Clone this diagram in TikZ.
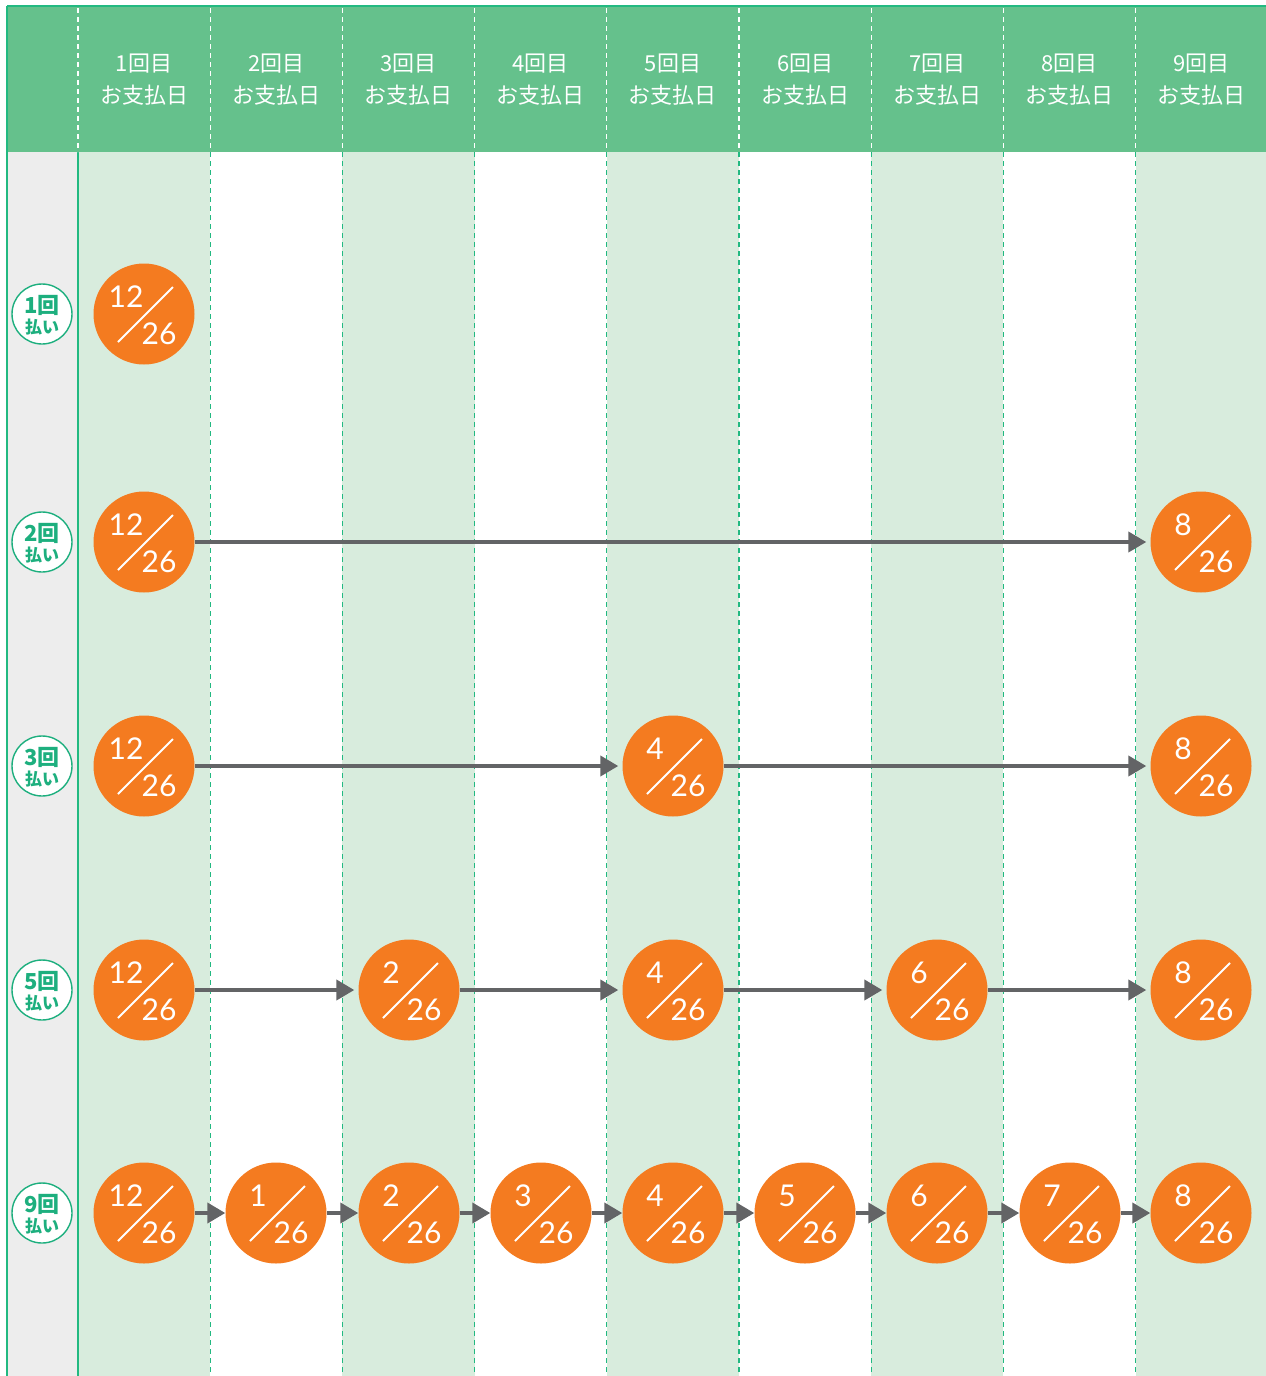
\documentclass[tikz,border=0pt]{standalone}
\usepackage{fontspec}
\setmainfont{Noto Sans CJK JP}
\newfontfamily\numfont{Lato}
\usetikzlibrary{arrows.meta,calc}
\definecolor{hdrgreen}{HTML}{65C18C}
\definecolor{lightgreen}{HTML}{D8ECDD}
\definecolor{leftgray}{HTML}{EDEDED}
\definecolor{linegreen}{HTML}{22B981}
\definecolor{labelgreen}{HTML}{1DAF7E}
\definecolor{payorange}{HTML}{F47B20}
\definecolor{arrowgray}{HTML}{636466}
\tikzset{
  paycircle/.style={circle, fill=payorange, minimum size=101pt, inner sep=0pt},
  numtxt/.style={text=white, font=\numfont\fontsize{30}{30}\selectfont, inner sep=0pt},
  slash/.style={white, line width=2pt},
  payarrow/.style={arrowgray, line width=4pt, -{Triangle[length=18pt,width=20pt]}, shorten >=4pt},
  hdrtxt/.style={text=white, font=\fontsize{22}{32}\selectfont, align=center, inner sep=0pt},
  rowlabel/.style={circle, draw=labelgreen, line width=1.4pt, fill=white, minimum size=60pt, inner sep=0pt},
  lbltxt/.style={text=labelgreen, inner sep=0pt},
  bodydash/.style={linegreen, line width=1.2pt, dash pattern=on 5pt off 4pt},
  hdrdash/.style={white, line width=1.2pt, dash pattern=on 5pt off 4pt}
}
\newcommand{\paycirc}[4]{% name, x, y, numerator
  \node[paycircle] (#1) at (#2,#3) {};
  \draw[slash] ($(#1.center)+(-26,28)$) -- ($(#1.center)+(29,-27)$);
  \node[numtxt] (#1-n) at ($(#1.center)+(-18,-17)$) {#4};
  \node[numtxt] (#1-d) at ($(#1.center)+(15,20)$) {26};
}
\begin{document}
\begin{tikzpicture}[x=1pt,y=-1pt]
\useasboundingbox (0,0) rectangle (1266,1376);
\fill[white] (0,0) rectangle (1266,1376);
% left column
\fill[leftgray] (7,6) rectangle (78,1376);
% column backgrounds
\foreach \i in {0,2,4,6,8} {
  \fill[lightgreen] ({78+\i*132.2},152) rectangle ({78+(\i+1)*132.2},1376);
}
% header
\fill[hdrgreen] (7,6) rectangle (1266,152);
\draw[linegreen, line width=1.2pt] (7,6) -- (1266,6);
\draw[linegreen, line width=1.2pt] (7,6) -- (7,1376);
\draw[linegreen, line width=1.2pt] (78,152) -- (78,1376);
\draw[hdrdash] (78,8) -- (78,152);
\foreach \i in {1,...,8} {
  \draw[hdrdash] ({78+\i*132.2},8) -- ({78+\i*132.2},152);
  \draw[bodydash] ({78+\i*132.2},152) -- ({78+\i*132.2},1376);
}
% header texts
\foreach \i in {1,...,9} {
  \node[hdrtxt] (h\i) at ({78+(\i-0.5)*132.2},80) {\i 回目\\お支払日};
}
% row labels
\foreach \n/\y in {1/314,2/542,3/766,5/990,9/1213} {
  \node[rowlabel] (lab\n) at (42,\y) {};
  \node[lbltxt, font=\bfseries\fontsize{22}{22}\selectfont] (lab\n-a) at (42,\y-9) {\n 回};
  \node[lbltxt, font=\bfseries\fontsize{17}{17}\selectfont] (lab\n-b) at (42,\y+13) {払い};
}
% row 1
\paycirc{r1c1}{144}{314}{12}
% row 2
\paycirc{r2c1}{144}{542}{12}
\paycirc{r2c9}{1201}{542}{8}
\draw[payarrow] (r2c1) -- (r2c9);
% row 3
\paycirc{r3c1}{144}{766}{12}
\paycirc{r3c5}{673}{766}{4}
\paycirc{r3c9}{1201}{766}{8}
\draw[payarrow] (r3c1) -- (r3c5);
\draw[payarrow] (r3c5) -- (r3c9);
% row 4
\paycirc{r4c1}{144}{990}{12}
\paycirc{r4c3}{409}{990}{2}
\paycirc{r4c5}{673}{990}{4}
\paycirc{r4c7}{937}{990}{6}
\paycirc{r4c9}{1201}{990}{8}
\draw[payarrow] (r4c1) -- (r4c3);
\draw[payarrow] (r4c3) -- (r4c5);
\draw[payarrow] (r4c5) -- (r4c7);
\draw[payarrow] (r4c7) -- (r4c9);
% row 5
\paycirc{r5c1}{144}{1213}{12}
\paycirc{r5c2}{276}{1213}{1}
\paycirc{r5c3}{409}{1213}{2}
\paycirc{r5c4}{541}{1213}{3}
\paycirc{r5c5}{673}{1213}{4}
\paycirc{r5c6}{805}{1213}{5}
\paycirc{r5c7}{937}{1213}{6}
\paycirc{r5c8}{1070}{1213}{7}
\paycirc{r5c9}{1201}{1213}{8}
\draw[payarrow, shorten >=0pt] (r5c1) -- (r5c2);
\draw[payarrow, shorten >=0pt] (r5c2) -- (r5c3);
\draw[payarrow, shorten >=0pt] (r5c3) -- (r5c4);
\draw[payarrow, shorten >=0pt] (r5c4) -- (r5c5);
\draw[payarrow, shorten >=0pt] (r5c5) -- (r5c6);
\draw[payarrow, shorten >=0pt] (r5c6) -- (r5c7);
\draw[payarrow, shorten >=0pt] (r5c7) -- (r5c8);
\draw[payarrow, shorten >=0pt] (r5c8) -- (r5c9);
\end{tikzpicture}
\end{document}
